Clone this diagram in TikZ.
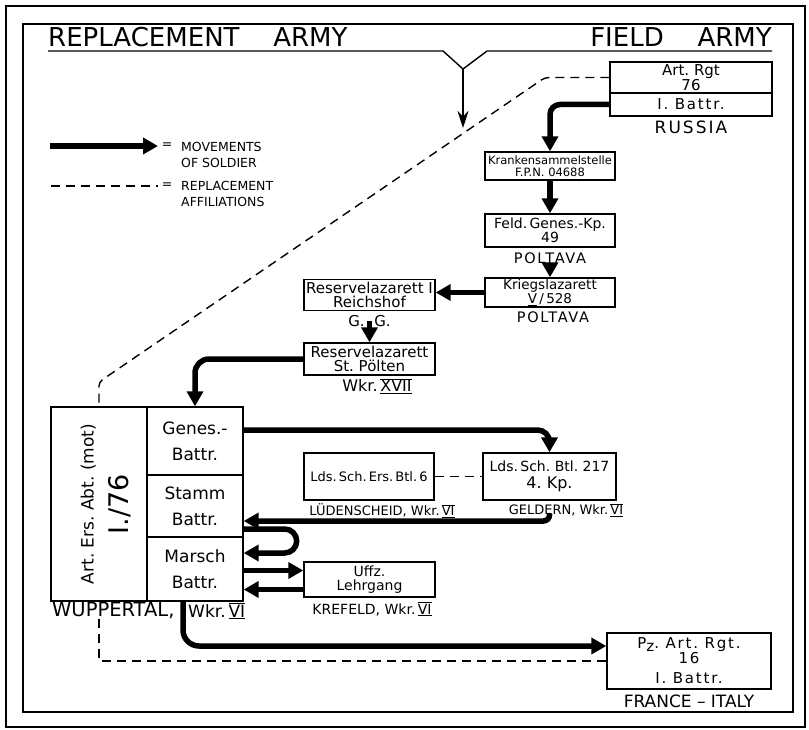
\documentclass[tikz,border=0pt]{standalone}
\usepackage{fontspec}
\setmainfont{DejaVu Sans}
\newfontfamily\wide[LetterSpace=12]{DejaVu Sans}
\usetikzlibrary{arrows.meta}
\newcommand{\fsz}[2]{\fontsize{#1}{#2}\selectfont}
\newcommand{\wkrnum}[1]{$\overline{\underline{\hbox{#1}}}$}
\lineskiplimit=-100pt
\begin{document}
\begin{tikzpicture}[x=1pt, y=-1pt,
  box/.style={draw, line width=1.4pt, inner sep=0pt, align=center},
  lbl/.style={inner sep=0pt, align=center},
  move/.style={line width=5.5pt, -{Triangle[length=15pt,width=16pt]}},
  repl/.style={line width=1.4pt, dash pattern=on 9pt off 6pt},
  pointer/.style={line width=1.3pt, -{Stealth[length=17pt,width=11pt]}}]
\useasboundingbox (0,0) rectangle (809,730);
\draw[line width=1.3pt] (6,6) rectangle (805,727);
\draw[line width=1.8pt] (23,24) rectangle (793,712);

\node[lbl, anchor=base west, font=\fsz{26}{26}] (headrepl) at (48,47) {REPLACEMENT\hspace{1.3em}ARMY};
\node[lbl, anchor=base east, font=\fsz{26}{26}] (headfield) at (772,47) {FIELD\hspace{1.3em}ARMY};
\draw[line width=1.4pt] (48,51) -- (443,51) -- (463,69) -- (487,51) -- (772,51);
\coordinate (vtip) at (463,69);
\coordinate (vend) at (463,128);
\draw[pointer] (vtip) -- (vend);

\coordinate (legmoveA) at (50,146);
\coordinate (legmoveB) at (158,146);
\draw[move] (legmoveA) -- (legmoveB);
\node[lbl, font=\fsz{12.5}{12.5}] (legeqA) at (167,146) {=};
\node[lbl, anchor=base west, font=\fsz{12.5}{12.5}] (legtxtA) at (181,152) {MOVEMENTS};
\node[lbl, anchor=base west, font=\fsz{12.5}{12.5}] (legtxtB) at (181,168) {OF SOLDIER};
\coordinate (legreplA) at (51,186);
\coordinate (legreplB) at (158,186);
\draw[repl] (legreplA) -- (legreplB);
\node[lbl, font=\fsz{12.5}{12.5}] (legeqB) at (167,186) {=};
\node[lbl, anchor=base west, font=\fsz{12.5}{12.5}] (legtxtC) at (181,191) {REPLACEMENT};
\node[lbl, anchor=base west, font=\fsz{12.5}{12.5}] (legtxtD) at (181,207) {AFFILIATIONS};

\node[box, minimum width=162pt, minimum height=31pt, font=\fsz{15}{15}] (artrgt) at (691,77.5) {Art.\ Rgt\\76};
\node[box, minimum width=162pt, minimum height=23pt, font=\wide\fsz{15}{15}] (artbattr) at (691,104.5) {I.\ Battr.};
\node[lbl, font=\wide\fsz{17}{17}] (russia) at (691,127) {RUSSIA};

\node[box, minimum width=130pt, minimum height=28pt, font=\fsz{11.5}{11.5}] (kranken) at (550,166) {Krankensammelstelle\\F.P.N. 04688};
\node[box, minimum width=130pt, minimum height=33pt, font=\fsz{14}{13.5}] (feld) at (550,230.5) {Feld.\,Genes.-Kp.\\49};
\node[lbl, font=\wide\fsz{14.5}{14.5}] (poltA) at (550,258) {POLTAVA};
\node[box, minimum width=130pt, minimum height=29pt, font=\fsz{13.5}{14}] (krieg) at (550,292.5) {Kriegslazarett\\\underline{V}\,/\,528};
\node[lbl, font=\wide\fsz{14.5}{14.5}] (poltB) at (553,317) {POLTAVA};

\node[box, minimum width=131pt, minimum height=31pt, font=\fsz{15}{14}] (reslazA) at (369.5,295) {Reservelazarett I\\Reichshof};
\node[lbl, font=\fsz{15}{15}] (gg) at (369.5,321) {G.\ \ G.};
\node[box, minimum width=131pt, minimum height=32pt, font=\fsz{15}{14}] (reslazB) at (369.5,359) {Reservelazarett\\St.\ Pölten};
\node[lbl, font=\fsz{16}{16}] (wkrxvii) at (377,386) {Wkr.\,\wkrnum{XVII}};

\node[box, minimum width=96pt, minimum height=194pt] (abt) at (99,504) {};
\node[lbl, rotate=90, font=\fsz{17}{35}] (abtlbl) at ([xshift=7pt]abt.center) {Art.\ Ers.\ Abt.\ (mot)\\\fsz{27}{35}I./76};
\node[box, minimum width=96pt, minimum height=68pt, font=\fsz{17}{26}] (genes) at (195,441) {Genes.-\\Battr.};
\node[box, minimum width=96pt, minimum height=62pt, font=\fsz{17}{26}] (stamm) at (195,506) {Stamm\\Battr.};
\node[box, minimum width=96pt, minimum height=64pt, font=\fsz{17}{26}] (marsch) at (195,569) {Marsch\\Battr.};
\node[lbl, anchor=west, font=\fsz{19.5}{19.5}] (wupp) at (52,611) {WUPPERTAL,};
\node[lbl, anchor=west, font=\fsz{17}{17}] (wuppwkr) at (188,611) {Wkr.\,\wkrnum{VI}};

\node[box, minimum width=130pt, minimum height=47pt, font=\fsz{13}{13}] (ldsers) at (369,476.5) {Lds.\,Sch.\,Ers.\,Btl.\,6};
\node[box, minimum width=133pt, minimum height=47pt, font=\fsz{14}{17}] (ldsbtl) at (549.5,476.5) {Lds.\,Sch.\ Btl.\ 217\\\fsz{16}{17}4.\ Kp.};
\node[lbl, font=\fsz{13}{13}] (luden) at (382,511) {LÜDENSCHEID, Wkr.\,\wkrnum{VI}};
\node[lbl, font=\fsz{13}{13}] (geldern) at (566,510) {GELDERN, Wkr.\,\wkrnum{VI}};

\node[box, minimum width=131pt, minimum height=35pt, font=\fsz{14}{13.5}] (uffz) at (369.5,579.5) {Uffz.\\Lehrgang};
\node[lbl, font=\fsz{14}{14}] (krefeld) at (372,609) {KREFELD, Wkr.\,\wkrnum{VI}};

\node[box, minimum width=164pt, minimum height=56pt, font=\wide\fsz{15}{15}] (pzrgt) at (689,661) {P\raisebox{-3pt}{z}.\ Art.\ Rgt.\\16\\[5pt]I.\ Battr.};
\node[lbl, font=\fsz{17}{17}] (france) at (689,701) {FRANCE – ITALY};

\coordinate (dcorner) at (545,77.5);
\coordinate (dleft) at (99,382);
\draw[repl, rounded corners=4pt] (artrgt.west) -- (dcorner) -- (dleft) -- (abt.north);
\draw[repl] (wupp.south -| abt.south) |- (pzrgt.west);
\draw[repl] (ldsers.east) -- (ldsbtl.west);

\draw[move, rounded corners=10pt] (artbattr.west) -| (kranken.north);
\draw[move] (kranken.south) -- (feld.north);
\draw[move] (poltA.south) -- (krieg.north);
\draw[move] (krieg.west) -- (krieg.west -| reslazA.east);
\draw[move] (gg.center) -- (reslazB.north);
\draw[move, rounded corners=14pt] (reslazB.west) -| (genes.north);
\draw[move, rounded corners=12pt] ([yshift=11pt]genes.east) -| (ldsbtl.north);
\draw[move, rounded corners=6pt] ([yshift=3pt]geldern.south -| ldsbtl.south) |- ([yshift=-15pt]stamm.east);
\draw[move, rounded corners=12pt] ([yshift=-23pt]stamm.east) -- ++(53,0) |- ([yshift=16pt]marsch.east);
\draw[move] ([yshift=9pt]uffz.west -| marsch.east) -- ([yshift=9pt]uffz.west);
\draw[move] ([yshift=-10pt]uffz.west) -- ([yshift=-10pt]uffz.west -| marsch.east);
\draw[move, rounded corners=16pt] ([xshift=-12pt]marsch.south) |- ([yshift=15pt]pzrgt.west);
\end{tikzpicture}
\end{document}
